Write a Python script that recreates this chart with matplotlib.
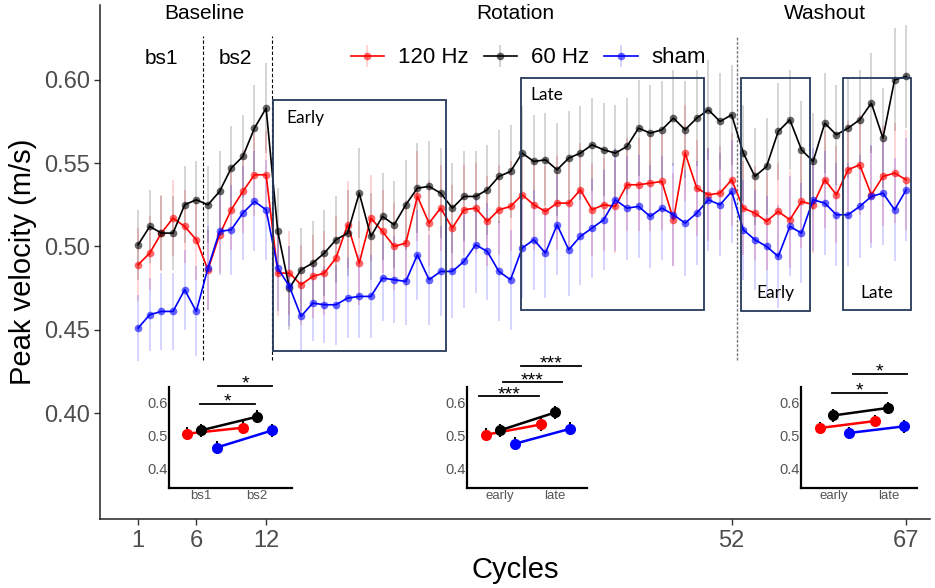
import matplotlib.pyplot as plt
from matplotlib.patches import Rectangle
from matplotlib.colors import to_rgba

plt.rcParams['font.family'] = ['Liberation Sans', 'DejaVu Sans']

# peak velocity per cycle (m/s), mean and SE for each stimulation group
cycles = list(range(1, 68))
hz120 = [0.489, 0.496, 0.508, 0.517, 0.512, 0.504, 0.486, 0.507, 0.522, 0.533, 0.543, 0.543, 0.484,
         0.484, 0.477, 0.482, 0.484, 0.493, 0.513, 0.490, 0.517, 0.509, 0.500, 0.502, 0.530, 0.514,
         0.523, 0.511, 0.522, 0.523, 0.515, 0.522, 0.524, 0.531,
         0.525, 0.521, 0.526, 0.526, 0.534, 0.522, 0.525, 0.524, 0.537, 0.537, 0.538, 0.539, 0.516,
         0.556, 0.535, 0.531, 0.532, 0.540,
         0.523, 0.520, 0.515, 0.521, 0.516, 0.527, 0.525, 0.540, 0.531, 0.546, 0.549, 0.531, 0.542,
         0.544, 0.540]
hz60 = [0.501, 0.512, 0.508, 0.508, 0.525, 0.528, 0.525, 0.533, 0.547, 0.554, 0.571, 0.583, 0.509,
        0.475, 0.486, 0.490, 0.496, 0.504, 0.508, 0.532, 0.506, 0.518, 0.513, 0.525, 0.535, 0.536,
        0.532, 0.523, 0.530, 0.530, 0.534, 0.542, 0.545, 0.556,
        0.551, 0.552, 0.546, 0.553, 0.556, 0.561, 0.558, 0.556, 0.560, 0.571, 0.568, 0.570, 0.577,
        0.570, 0.577, 0.582, 0.575, 0.579,
        0.556, 0.542, 0.548, 0.569, 0.576, 0.558, 0.551, 0.574, 0.567, 0.571, 0.576, 0.586, 0.565,
        0.600, 0.602]
sham = [0.451, 0.459, 0.461, 0.461, 0.474, 0.461, 0.487, 0.509, 0.510, 0.520, 0.527, 0.522, 0.487,
        0.476, 0.458, 0.466, 0.465, 0.465, 0.469, 0.470, 0.470, 0.481, 0.480, 0.479, 0.495, 0.480,
        0.485, 0.485, 0.491, 0.501, 0.497, 0.485, 0.480, 0.499,
        0.504, 0.496, 0.513, 0.498, 0.506, 0.511, 0.516, 0.528, 0.523, 0.524, 0.518, 0.523, 0.519,
        0.514, 0.520, 0.528, 0.525, 0.533,
        0.510, 0.504, 0.500, 0.494, 0.512, 0.508, 0.528, 0.526, 0.519, 0.519, 0.524, 0.530, 0.532,
        0.522, 0.534]

hz120_se = [0.022, 0.022, 0.023, 0.023, 0.022, 0.024, 0.024, 0.023, 0.024, 0.025, 0.025, 0.026, 0.026,
            0.025, 0.024, 0.025, 0.025, 0.025, 0.026, 0.025, 0.026, 0.025, 0.026, 0.026, 0.027, 0.026,
            0.026, 0.026, 0.027, 0.027, 0.027, 0.027, 0.027, 0.027,
            0.027, 0.027, 0.028, 0.027, 0.028, 0.028, 0.028, 0.028, 0.028, 0.028, 0.029, 0.029, 0.028,
            0.029, 0.029, 0.028, 0.028, 0.028,
            0.028, 0.028, 0.029, 0.029, 0.029, 0.028, 0.029, 0.029, 0.029, 0.029, 0.030, 0.029, 0.030,
            0.030, 0.030]
hz60_se = [0.021, 0.022, 0.022, 0.022, 0.023, 0.023, 0.023, 0.024, 0.025, 0.025, 0.026, 0.027, 0.026,
           0.025, 0.025, 0.025, 0.026, 0.026, 0.026, 0.027, 0.026, 0.026, 0.026, 0.027, 0.027, 0.027,
           0.027, 0.027, 0.027, 0.027, 0.027, 0.028, 0.028, 0.028,
           0.028, 0.028, 0.028, 0.028, 0.028, 0.028, 0.028, 0.029, 0.029, 0.029, 0.029, 0.029, 0.029,
           0.029, 0.029, 0.030, 0.029, 0.030,
           0.029, 0.029, 0.029, 0.029, 0.030, 0.029, 0.029, 0.030, 0.030, 0.030, 0.030, 0.030, 0.030,
           0.031, 0.031]
sham_se = [0.020, 0.022, 0.023, 0.023, 0.024, 0.027, 0.025, 0.026, 0.027, 0.028, 0.030, 0.030, 0.026,
           0.024, 0.021, 0.023, 0.023, 0.024, 0.024, 0.025, 0.025, 0.026, 0.026, 0.026, 0.027, 0.027,
           0.027, 0.028, 0.028, 0.029, 0.029, 0.030, 0.030, 0.030,
           0.030, 0.027, 0.030, 0.028, 0.029, 0.030, 0.030, 0.031, 0.031, 0.031, 0.031, 0.031, 0.031,
           0.032, 0.031, 0.031, 0.031, 0.031,
           0.030, 0.030, 0.030, 0.031, 0.030, 0.030, 0.031, 0.031, 0.031, 0.031, 0.031, 0.031, 0.031,
           0.031, 0.031]

groups = ["120 Hz", "60 Hz", "sham"]
colors = ["#FF0000", "#000000", "#0000FF"]

# phase summaries: (early, late) means for 120 Hz, 60 Hz, sham
inset_ticks = [["bs1", "bs2"], ["early", "late"], ["early", "late"]]
baseline_means = [[0.505, 0.523], [0.515, 0.556], [0.463, 0.515]]
rotation_means = [[0.502, 0.533], [0.515, 0.569], [0.475, 0.520]]
washout_means = [[0.522, 0.543], [0.560, 0.583], [0.507, 0.527]]
inset_se = 0.019
# significance brackets: (x start, x end, height, label)
baseline_sig = [(0.98, 1.96, 0.595, "*"), (1.31, 2.28, 0.649, "*")]
rotation_sig = [(0.62, 1.71, 0.618, "***"), (1.05, 2.13, 0.660, "***"), (1.38, 2.47, 0.710, "***")]
washout_sig = [(0.98, 1.97, 0.629, "*"), (1.35, 2.33, 0.685, "*")]

fig = plt.figure(figsize=(9.35, 5.88), dpi=100)
ax = fig.add_axes([0.107, 0.1173, 0.888, 0.8742])

handles = []
for name, vals, se, col in zip(groups, [hz120, hz60, sham], [hz120_se, hz60_se, sham_se], colors):
    h = ax.errorbar(cycles, vals, yerr=se, fmt='-o', color=col, lw=1.2, ms=5.5,
                    mfc=to_rgba(col, 0.6), mec='none',
                    ecolor=to_rgba(col, 0.18), elinewidth=1.3, label=name)
    handles.append(h)

ax.set_xlim(-2.27, 69.07)
ax.set_ylim(0.3364, 0.6449)
ax.set_xticks([1, 6, 12, 52, 67])
ax.set_yticks([0.40, 0.45, 0.50, 0.55, 0.60])
ax.set_yticklabels(["0.40", "0.45", "0.50", "0.55", "0.60"])
ax.tick_params(labelsize=17, labelcolor="#4D4D4D", color="#333333", length=4, width=1)
ax.tick_params(axis='x', pad=4)
for s in ["top", "right"]:
    ax.spines[s].set_visible(False)
for s in ["left", "bottom"]:
    ax.spines[s].set_color("#222222")
    ax.spines[s].set_linewidth(1.1)
ax.set_xlabel("Cycles", fontsize=21, labelpad=3)
ax.set_ylabel("Peak velocity (m/s)", fontsize=21, labelpad=5)

# phase separators
ax.plot([6.6, 6.6], [0.432, 0.626], color="black", lw=0.8, ls=(0, (3, 2)))
ax.plot([12.5, 12.5], [0.432, 0.626], color="black", lw=0.8, ls=(0, (3, 2)))
ax.plot([52.5, 52.5], [0.432, 0.626], color="#777777", lw=1.0, ls=(0, (2, 1.2)))

# phase titles
ax.text(6.67, 0.640, "Baseline", fontsize=15, ha="center", va="center")
ax.text(33.4, 0.640, "Rotation", fontsize=15, ha="center", va="center")
ax.text(60.0, 0.640, "Washout", fontsize=15, ha="center", va="center")
ax.text(3.0, 0.613, "bs1", fontsize=15, ha="center", va="center")
ax.text(9.4, 0.613, "bs2", fontsize=15, ha="center", va="center")

# analysis windows
box_col = "#26395A"
windows = [(12.63, 0.437, 14.8, 0.151), (33.89, 0.462, 15.73, 0.139),
           (52.82, 0.461, 5.93, 0.140), (61.60, 0.462, 5.82, 0.139)]
for x0, y0, w, h in windows:
    ax.add_patch(Rectangle((x0, y0), w, h, fill=False, ec=box_col, lw=1.3, zorder=5))
ax.text(13.76, 0.577, "Early", fontsize=12.5, family=["Lato", "DejaVu Sans"], ha="left", va="center")
ax.text(34.7, 0.5906, "Late", fontsize=12.5, family=["Lato", "DejaVu Sans"], ha="left", va="center")
ax.text(55.8, 0.4723, "Early", fontsize=12.5, family=["Lato", "DejaVu Sans"], ha="center", va="center")
ax.text(64.5, 0.4723, "Late", fontsize=12.5, family=["Lato", "DejaVu Sans"], ha="center", va="center")

ax.legend(handles=handles, labels=groups, loc="center", bbox_to_anchor=(0.516, 0.897), ncol=3,
          frameon=False, fontsize=16, handlelength=1.5, handletextpad=0.63, columnspacing=0.68)


def draw_inset(rect, xlim, ticks, means, sig):
    a = fig.add_axes(rect)
    offsets = [-0.25, 0.0, 0.28]
    for vals, col, off in zip(means, colors, offsets):
        xs = [1 + off, 2 + off]
        a.plot(xs, vals, color=col, lw=1.8, zorder=2)
        a.errorbar(xs, vals, yerr=inset_se, fmt='none', ecolor="black", elinewidth=1.5, zorder=3)
        a.plot(xs, vals, 'o', color=col, ms=8, mec='none', zorder=4)
    for x0, x1, y, lab in sig:
        a.plot([x0, x1], [y, y], color="black", lw=1.3, clip_on=False)
        a.annotate(lab, xy=((x0 + x1) / 2, y), xytext=(0, -2), textcoords="offset points",
                   ha="center", va="baseline", fontsize=14, annotation_clip=False)
    a.set_xlim(*xlim)
    a.set_ylim(0.34, 0.647)
    a.set_xticks([1, 2])
    a.set_xticklabels(ticks)
    a.set_yticks([0.4, 0.5, 0.6])
    a.set_yticklabels(["0.4", "0.5", "0.6"])
    a.tick_params(axis='y', length=0, pad=1, labelsize=10.5, labelcolor="#555555")
    a.tick_params(axis='x', length=0, pad=1, labelsize=9.5, labelcolor="#555555")
    for s in ["top", "right"]:
        a.spines[s].set_visible(False)
    for s in ["left", "bottom"]:
        a.spines[s].set_linewidth(1.6)
    a.patch.set_alpha(0)


draw_inset([0.1811, 0.1696, 0.1309, 0.1728], (0.431, 2.628), inset_ticks[0], baseline_means, baseline_sig)
draw_inset([0.4998, 0.1696, 0.1277, 0.1728], (0.405, 2.576), inset_ticks[1], rotation_means, rotation_sig)
draw_inset([0.8564, 0.1696, 0.1241, 0.1728], (0.407, 2.516), inset_ticks[2], washout_means, washout_sig)

fig.savefig("out.png", dpi=100)
